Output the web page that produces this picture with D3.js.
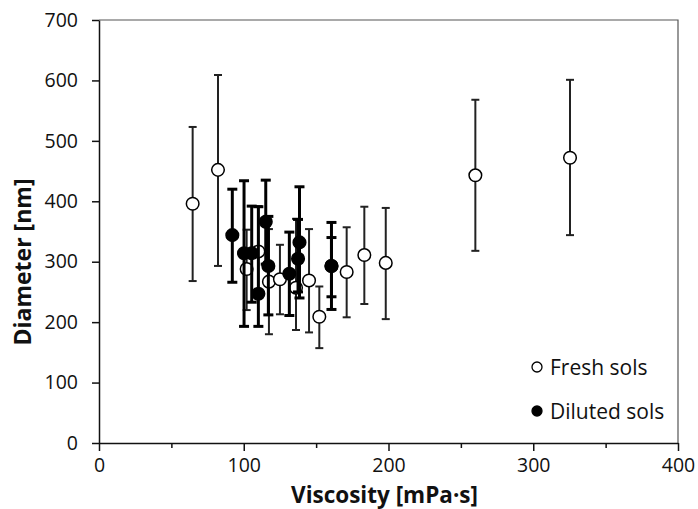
<!DOCTYPE html>
<html>
<head>
<meta charset="utf-8">
<script src="https://cdn.jsdelivr.net/npm/d3@7"></script>
<style>
  body { margin: 0; background: #fff; }
  text { font-family: "Open Sans", sans-serif; fill: #111; }
</style>
</head>
<body>
<div id="chart"></div>
<script>
// fresh sols (open circles)
const freshVisc = [64.7, 82.2, 102.0, 110.1, 117.4, 125.0, 136.1, 145.1, 152.2, 171.1, 183.3, 198.1, 260.0, 325.4];
const freshDiam = [396, 452, 288, 317, 267, 271, 257, 269, 209, 283, 311, 298, 443, 472];
const freshHi   = [523, 609, 353, 392, 354, 328, 371, 354, 259, 357, 391, 389, 568, 601];
const freshLo   = [268, 293, 220, 240, 180, 213, 187, 183, 157, 208, 230, 205, 318, 344];

// diluted sols (filled circles)
const dilVisc = [92.1, 100.2, 105.5, 110.1, 115.2, 117.0, 131.5, 137.5, 138.5, 160.6, 160.6];
const dilDiam = [344, 314, 314, 247, 366, 293, 280, 305, 332, 293, 293];
const dilHi   = [420, 434, 392, 391, 435, 375, 349, 370, 424, 365, 340];
const dilLo   = [266, 193, 233, 193, 296, 212, 211, 250, 240, 221, 242];

const xTicks = [0, 100, 200, 300, 400];
const xMinor = [50, 150, 250, 350];
const yTicks = [0, 100, 200, 300, 400, 500, 600, 700];

const W = 698, H = 509;
const m = {left: 99, right: 20, top: 20, bottom: 66};

const svg = d3.select("#chart").append("svg")
  .attr("width", W).attr("height", H);

const x = d3.scaleLinear().domain([0, 400]).range([m.left, W - m.right]);
const y = d3.scaleLinear().domain([0, 700]).range([H - m.bottom, m.top]);

// frame top / right
svg.append("path")
  .attr("d", `M${x(0)},${y(700)}H${x(400)}V${y(0)}`)
  .attr("fill", "none").attr("stroke", "#555").attr("stroke-width", 1.2);

// minor x ticks
svg.append("g")
  .attr("transform", `translate(0,${y(0)})`)
  .call(d3.axisBottom(x).tickValues(xMinor).tickSize(5).tickFormat(""))
  .call(g => g.select(".domain").remove())
  .selectAll("line").attr("stroke", "#111").attr("stroke-width", 1.5);

const xAxis = svg.append("g")
  .attr("transform", `translate(0,${y(0)})`)
  .call(d3.axisBottom(x).tickValues(xTicks).tickSize(8).tickSizeOuter(0).tickPadding(7));
xAxis.select(".domain").attr("stroke", "#111").attr("stroke-width", 1.5);
xAxis.selectAll("line").attr("stroke", "#111").attr("stroke-width", 1.5);
xAxis.selectAll("text").attr("font-size", 19.5).attr("fill", "#111")
  .style("font-family", "'Open Sans', sans-serif");

const yAxis = svg.append("g")
  .attr("transform", `translate(${x(0)},0)`)
  .call(d3.axisLeft(y).tickValues(yTicks).tickSize(7).tickSizeOuter(0).tickPadding(14));
yAxis.select(".domain").attr("stroke", "#111").attr("stroke-width", 1.5);
yAxis.selectAll("line").attr("stroke", "#111").attr("stroke-width", 1.5);
yAxis.selectAll("text").attr("font-size", 19.5).attr("fill", "#111")
  .style("font-family", "'Open Sans', sans-serif");

// axis titles
svg.append("text")
  .attr("x", (x(0) + x(400)) / 2 - 4).attr("y", 503)
  .attr("text-anchor", "middle").attr("font-size", 22.5).attr("font-weight", "bold")
  .text("Viscosity [mPa·s]");

svg.append("text")
  .attr("transform", "translate(31,262) rotate(-90)")
  .attr("text-anchor", "middle").attr("font-size", 23).attr("font-weight", "bold")
  .text("Diameter [nm]");

function drawSeries(vs, ds, his, los, opts) {
  const pts = vs.map((v, i) => ({v: v, d: ds[i], hi: his[i], lo: los[i]}));
  const g = svg.append("g");
  const cw = opts.cap;
  g.selectAll(".bar").data(pts).join("line")
    .attr("x1", p => x(p.v)).attr("x2", p => x(p.v))
    .attr("y1", p => y(p.hi)).attr("y2", p => y(p.lo))
    .attr("stroke", opts.barColor).attr("stroke-width", opts.barW);
  g.selectAll(".capT").data(pts).join("line")
    .attr("x1", p => x(p.v) - cw).attr("x2", p => x(p.v) + cw)
    .attr("y1", p => y(p.hi)).attr("y2", p => y(p.hi))
    .attr("stroke", opts.barColor).attr("stroke-width", opts.barW);
  g.selectAll(".capB").data(pts).join("line")
    .attr("x1", p => x(p.v) - cw).attr("x2", p => x(p.v) + cw)
    .attr("y1", p => y(p.lo)).attr("y2", p => y(p.lo))
    .attr("stroke", opts.barColor).attr("stroke-width", opts.barW);
  g.selectAll("circle").data(pts).join("circle")
    .attr("cx", p => x(p.v)).attr("cy", p => y(p.d)).attr("r", 6.3)
    .attr("fill", opts.fill).attr("stroke", "#000").attr("stroke-width", 1.5);
}

drawSeries(freshVisc, freshDiam, freshHi, freshLo, {barColor: "#222", barW: 2, cap: 4, fill: "#fff"});
drawSeries(dilVisc, dilDiam, dilHi, dilLo, {barColor: "#000", barW: 3, cap: 5, fill: "#000"});

// legend
const legend = [
  {label: "Fresh sols", fill: "#fff", cy: 367},
  {label: "Diluted sols", fill: "#000", cy: 411}
];
const lg = svg.append("g");
lg.selectAll("circle").data(legend).join("circle")
  .attr("cx", 537).attr("cy", d => d.cy).attr("r", 5)
  .attr("fill", d => d.fill).attr("stroke", "#000").attr("stroke-width", 1.3);
lg.selectAll("text").data(legend).join("text")
  .attr("x", 550).attr("y", d => d.cy + 7.5)
  .attr("font-size", 21)
  .text(d => d.label);
</script>
</body>
</html>
